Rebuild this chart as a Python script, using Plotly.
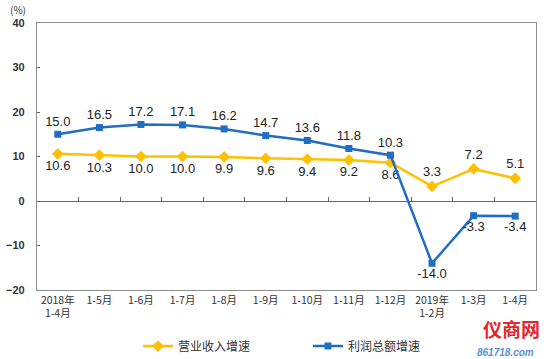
import plotly.graph_objects as go

categories = ["2018年<br>1-4月", "1-5月", "1-6月", "1-7月", "1-8月", "1-9月",
              "1-10月", "1-11月", "1-12月", "2019年<br>1-2月", "1-3月", "1-4月"]
revenue = [10.6, 10.3, 10.0, 10.0, 9.9, 9.6, 9.4, 9.2, 8.6, 3.3, 7.2, 5.1]
profit = [15.0, 16.5, 17.2, 17.1, 16.2, 14.7, 13.6, 11.8, 10.3, -14.0, -3.3, -3.4]
rev_pos = ["bottom center"] * 9 + ["top center"] * 3
pro_pos = ["top center"] * 9 + ["bottom center"] * 3
y_ticks = [-20, -10, 0, 10, 20, 30, 40]

xs = list(range(len(categories)))
boundaries = [i + 0.5 for i in xs[:-1]]

fig = go.Figure()
fig.add_trace(go.Scatter(
    x=xs, y=revenue, name="营业收入增速", mode="lines+markers+text",
    line=dict(color="#FFC000", width=2.5),
    marker=dict(symbol="diamond", size=9, color="#FFC000"),
    text=[f"{v:.1f}" for v in revenue], textposition=rev_pos,
    textfont=dict(family="Liberation Sans, Arial", size=13, color="#222"),
    cliponaxis=False,
))
fig.add_trace(go.Scatter(
    x=xs, y=profit, name="利润总额增速", mode="lines+markers+text",
    line=dict(color="#1F6EC4", width=2.5),
    marker=dict(symbol="square", size=7, color="#1F6EC4"),
    text=[f"{v:.1f}" for v in profit], textposition=pro_pos,
    textfont=dict(family="Liberation Sans, Arial", size=13, color="#222"),
    cliponaxis=False,
))
# invisible trace to carry a secondary x axis for tick marks on the zero line
fig.add_trace(go.Scatter(x=[xs[0]], y=[0], xaxis="x2", mode="markers",
                         marker=dict(opacity=0), showlegend=False, hoverinfo="skip"))

fig.update_layout(
    width=550, height=359,
    margin=dict(l=37, r=14, t=23, b=69, autoexpand=False),
    paper_bgcolor="white", plot_bgcolor="white",
    showlegend=True,
    legend=dict(orientation="h", x=0.543, xanchor="center", y=-0.21, yanchor="middle",
                font=dict(family="Noto Sans CJK SC", size=12, color="#333"),
                itemwidth=30, tracegroupgap=0, entrywidth=125),
    xaxis=dict(range=[-0.5, len(categories) - 0.5], tickvals=xs, ticktext=categories,
               showgrid=False, zeroline=False, showline=True, mirror=True,
               linecolor="#8C8C8C", linewidth=1.2, ticks="", automargin=False,
               tickfont=dict(family="Noto Sans CJK SC", size=10.5, color="#333")),
    xaxis2=dict(overlaying="x", anchor="free", position=1/3, side="bottom",
                range=[-0.5, len(categories) - 0.5], tickvals=boundaries,
                ticks="inside", ticklen=4, tickcolor="#666", showticklabels=False,
                showgrid=False, zeroline=False, showline=False, automargin=False),
    yaxis=dict(range=[-20, 40], tickvals=y_ticks, showgrid=False, automargin=False,
               zeroline=True, zerolinecolor="#666", zerolinewidth=1.2,
               showline=True, mirror=True, linecolor="#8C8C8C", linewidth=1.2,
               ticks="inside", ticklen=3, tickcolor="#666", ticklabelstandoff=9,
               tickfont=dict(family="Liberation Sans, Arial", size=11, color="#333",
                             weight="bold")),
    annotations=[
        dict(text="(%)", xref="paper", yref="paper", x=-0.018, y=1.015,
             xanchor="right", yanchor="bottom", showarrow=False,
             font=dict(family="Noto Sans CJK SC", size=10, color="#333")),
        dict(text="<b>仪商网</b>", xref="paper", yref="paper", x=1.013, y=-0.088,
             xanchor="right", yanchor="top", showarrow=False,
             font=dict(family="Noto Sans CJK SC", size=19, color="#E0282E")),
        dict(text="<b><i>861718.com</i></b>", xref="paper", yref="paper", x=1.0, y=-0.206,
             xanchor="right", yanchor="top", showarrow=False,
             font=dict(family="Liberation Sans", size=10, color="#5B8FD6")),
    ],
)

fig.write_html("out.html", config={"displayModeBar": False},
               post_script="document.body.style.margin='0px';")
